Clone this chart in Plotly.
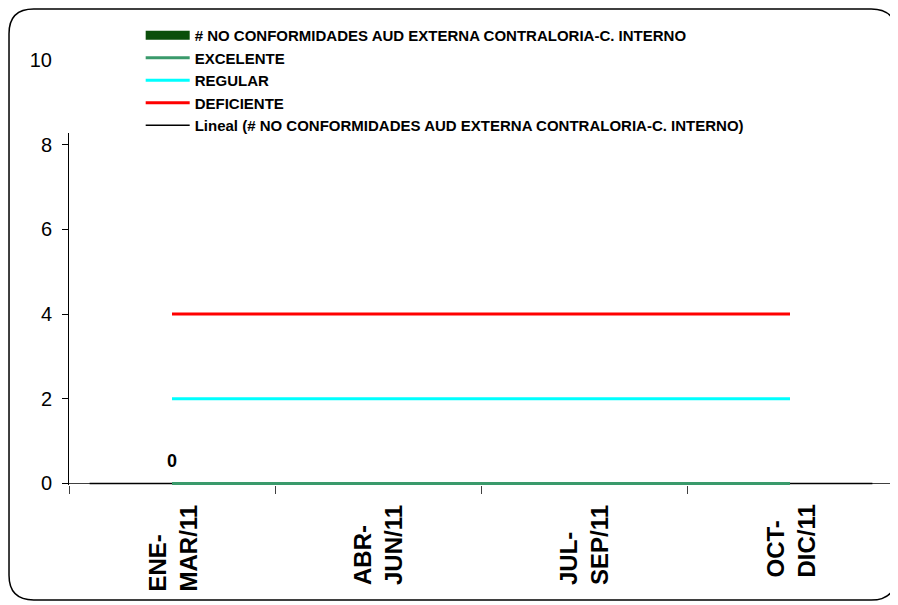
import plotly.graph_objects as go

categories = ["ENE-<br>MAR/11", "ABR-<br>JUN/11", "JUL-<br>SEP/11", "OCT-<br>DIC/11"]
no_conformidades = [0, 0, 0, 0]
excelente = [0, 0, 0, 0]
regular = [2, 2, 2, 2]
deficiente = [4, 4, 4, 4]
lineal = [0, 0, 0, 0]

name_bar = "# NO CONFORMIDADES AUD EXTERNA CONTRALORIA-C. INTERNO"
FONT = "Arial, Liberation Sans, sans-serif"

fig = go.Figure()
fig.add_trace(go.Bar(x=categories, y=no_conformidades, name=name_bar,
                     marker=dict(color="#006400", line=dict(color="black", width=1.5)),
                     showlegend=False))
# legend entry for the bar series (wide symbol like the original)
fig.add_trace(go.Scatter(x=[None], y=[None], mode="lines", name=name_bar,
                         line=dict(color="#0B4F0B", width=9), legendrank=1))
fig.add_trace(go.Scatter(x=categories, y=lineal, mode="lines",
                         name="Lineal (" + name_bar + ")",
                         line=dict(color="black", width=1.5), legendrank=5))
fig.add_trace(go.Scatter(x=categories, y=excelente, mode="lines", name="EXCELENTE",
                         line=dict(color="#3A9A6B", width=3), legendrank=2))
fig.add_trace(go.Scatter(x=categories, y=regular, mode="lines", name="REGULAR",
                         line=dict(color="#00FFFF", width=3), legendrank=3))
fig.add_trace(go.Scatter(x=categories, y=deficiente, mode="lines", name="DEFICIENTE",
                         line=dict(color="#FF0000", width=3), legendrank=4))

# data label for the first bar
fig.add_annotation(x=categories[0], y=no_conformidades[0], text=str(no_conformidades[0]),
                   showarrow=False, yanchor="middle", yshift=22,
                   font=dict(family=FONT, size=18, color="black", weight="bold"))

# category labels (rotated, lines aligned at their start like the original)
for c in categories:
    fig.add_annotation(x=c, y=0, xref="x", yref="paper", text=c, showarrow=False,
                       textangle=-90, align="left", xanchor="center", yanchor="top",
                       yshift=-18,
                       font=dict(family=FONT, size=24, color="black", weight="bold"))

# rounded border in paper coords
x0, x1 = -0.0728, 1.0036
y0, y1 = -0.2706, 1.12
rx, ry = 0.03, 0.058
path = (f"M {x0+rx},{y1} L {x1-rx},{y1} Q {x1},{y1} {x1},{y1-ry} "
        f"L {x1},{y0+ry} Q {x1},{y0} {x1-rx},{y0} L {x0+rx},{y0} "
        f"Q {x0},{y0} {x0},{y0+ry} L {x0},{y1-ry} Q {x0},{y1} {x0+rx},{y1} Z")

fig.update_layout(
    width=890, height=597,
    margin=dict(l=61, r=5, t=52, b=120),
    paper_bgcolor="white", plot_bgcolor="white",
    barmode="group",
    showlegend=True,
    legend=dict(x=0.087, y=1.0965, xanchor="left", yanchor="top",
                bgcolor="white", borderwidth=0,
                font=dict(family=FONT, size=15, color="black", weight="bold"),
                traceorder="normal", itemwidth=44),
    xaxis=dict(type="category", showline=False,
               ticks="outside", ticklen=8, tickcolor="#404040", tickson="boundaries",
               showticklabels=False, showgrid=False, zeroline=False, layer="below traces"),
    yaxis=dict(range=[-0.036, 10], tickvals=[0, 2, 4, 6, 8, 10], showline=True,
               linecolor="black", linewidth=1,
               ticks="outside", ticklen=6, tickcolor="black", showgrid=False,
               zeroline=True, zerolinecolor="#404040", zerolinewidth=1,
               ticklabelstandoff=6, layer="below traces",
               tickfont=dict(family=FONT, size=20, color="black")),
    shapes=[
        dict(type="path", xref="paper", yref="paper", path=path,
             line=dict(color="black", width=1.5), fillcolor="rgba(0,0,0,0)", layer="above"),
        dict(type="rect", xref="paper", yref="paper", x0=-0.01, x1=0.008, y0=0.828, y1=1.03,
             line=dict(width=0), fillcolor="white", layer="above"),
    ],
)

fig.write_html("out.html")
